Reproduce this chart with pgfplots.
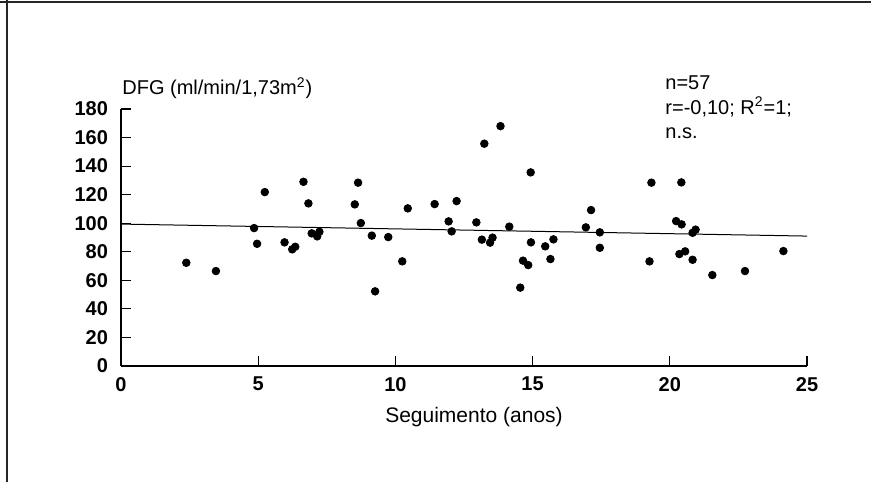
\documentclass[border=0pt]{standalone}
\usepackage{pgfplots}
\pgfplotsset{compat=1.18}
\usepackage{fontspec}
\setmainfont{Liberation Sans}
\begin{document}
\begin{tikzpicture}
\useasboundingbox (-60.5pt,-58pt) rectangle (375pt,183pt);
\draw[line width=0.8pt, black!85] (-60.5pt,182pt) -- (375pt,182pt);
\draw[line width=0.8pt, black!85] (-57pt,183pt) -- (-57pt,-58pt);
\begin{axis}[
  at={(0pt,0pt)}, anchor=south west,
  scale only axis, width=343pt, height=128.5pt,
  xmin=0, xmax=25, ymin=0, ymax=180,
  axis x line=bottom, axis y line=left,
  axis line style={-, line width=0.7pt},
  xtick={0,5,...,25}, ytick={0,20,...,180},
  tick align=inside, major tick length=5pt,
  tick style={line width=0.6pt, black},
  ticklabel style={font=\fontsize{10}{12}\selectfont\bfseries},
  /pgf/number format/assume math mode=true,
  xticklabel style={yshift=-2pt},
  yticklabel style={xshift=-3pt},
  clip=false,
]
\addplot[black, line width=0.5pt] coordinates {(0,99.4) (25,91.0)};
\addplot[only marks, mark=*, mark size=1.9pt, black] coordinates {
(2.38,72.3) (3.46,66.5) (4.85,96.6) (4.96,85.6) (5.24,121.8) (5.96,86.6)
(6.24,81.7) (6.35,83.5) (6.65,129.0) (6.83,113.9) (6.95,92.9) (7.15,90.8)
(7.23,94.0) (8.64,128.4) (8.52,113.2) (8.74,100.1) (9.14,91.3) (9.26,52.3)
(9.74,90.3) (10.25,73.3) (10.45,110.4) (11.43,113.4) (11.94,101.3) (12.05,94.3)
(12.23,115.5) (12.95,100.6) (13.15,88.5) (13.24,155.7) (13.45,86.4) (13.54,89.9)
(13.83,168.0) (14.15,97.6) (14.55,54.9) (14.65,73.8) (14.84,70.7) (14.93,135.6)
(14.94,86.6) (15.46,83.8) (15.65,74.9) (15.76,88.7) (16.94,97.1) (17.13,109.2)
(17.45,93.6) (17.45,82.8) (19.26,73.3) (19.33,128.4) (20.23,101.5) (20.35,78.4)
(20.42,128.6) (20.43,99.2) (20.56,80.3) (20.83,74.4) (20.83,93.3) (20.94,95.5)
(21.55,63.7) (22.74,66.5) (24.14,80.5)
};
\end{axis}
\begin{scope}[font=\fontsize{10}{12}\selectfont]
\node[anchor=base west, inner sep=0pt] at (0.5pt,135.5pt) {DFG (ml/min/1,73m\textsuperscript{2})};
\node[anchor=base west, inner sep=0pt] at (272pt,138pt) {n=57};
\node[anchor=base west, inner sep=0pt] at (272pt,125.9pt) {r=-0,10; R\textsuperscript{2}=1;};
\node[anchor=base west, inner sep=0pt] at (272pt,113.9pt) {n.s.};
\node[anchor=base, inner sep=0pt, font=\fontsize{10.5}{12}\selectfont] at (176.5pt,-28pt) {Seguimento (anos)};
\end{scope}
\end{tikzpicture}
\end{document}
